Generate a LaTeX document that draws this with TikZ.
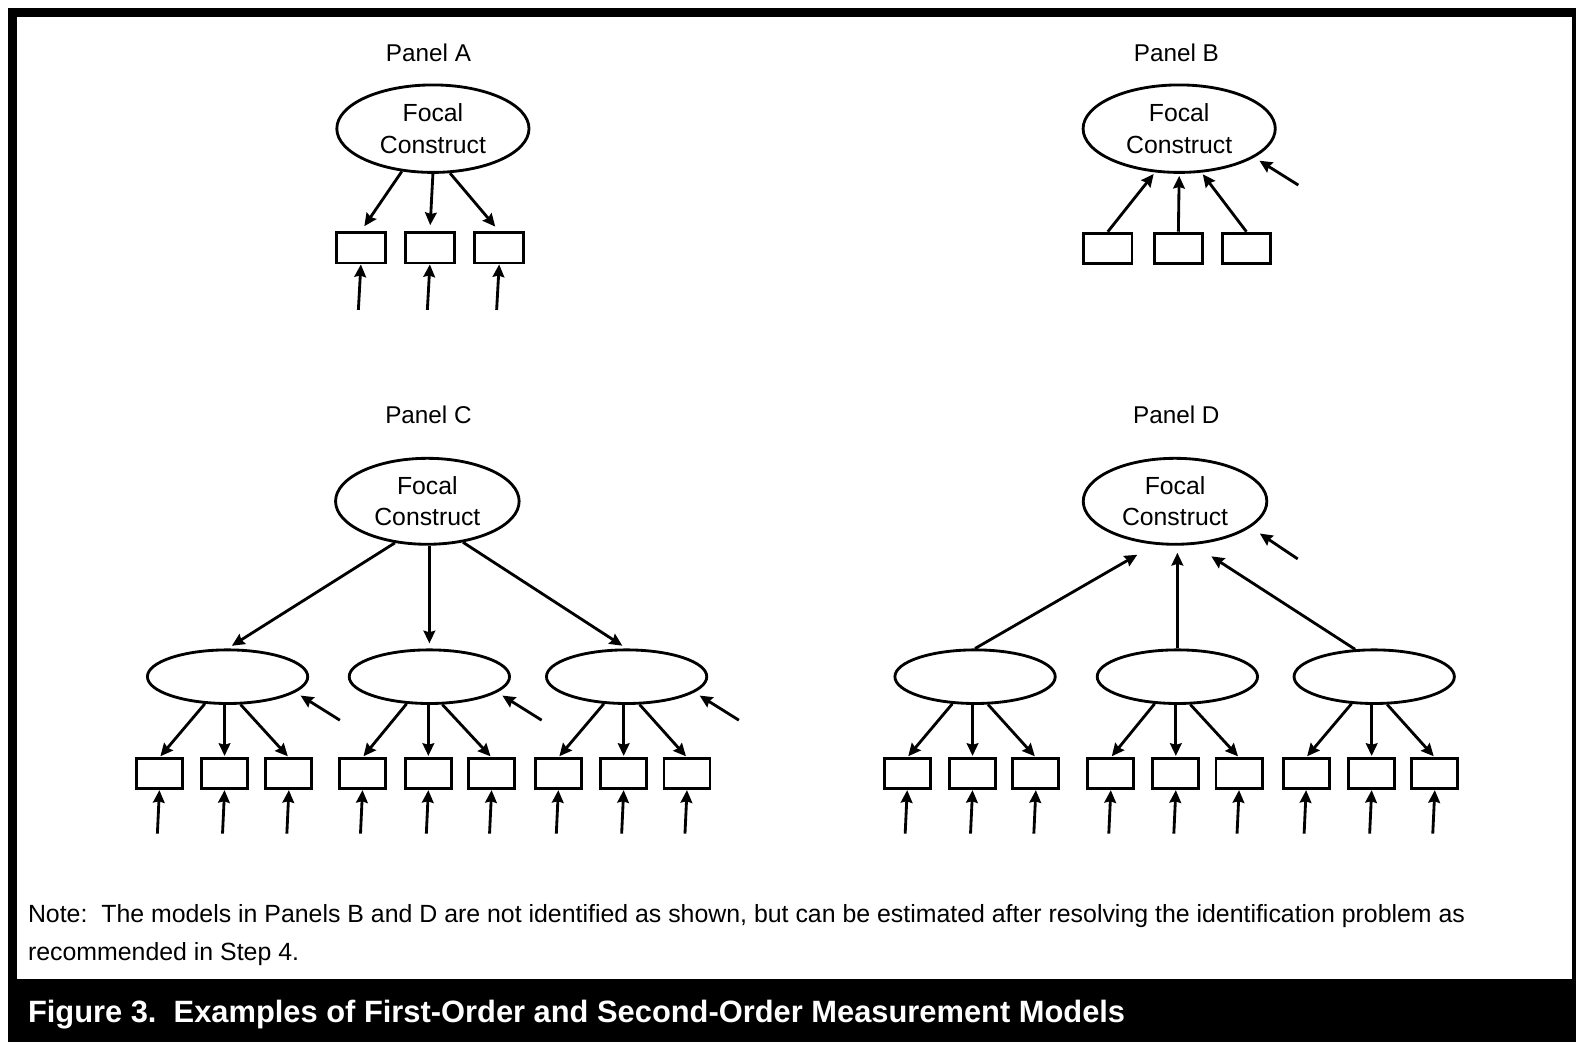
\documentclass[tikz,border=0pt]{standalone}
\usepackage{fontspec}
\setmainfont{Liberation Sans}
\usetikzlibrary{arrows.meta,shapes.geometric,calc}
\begin{document}
\begin{tikzpicture}[x=1pt,y=-1pt,
  lw/.style={line width=2.8pt},
  arr/.style={lw,-{Stealth[length=12.5pt,width=11.5pt,inset=1.5pt]}},
  bigell/.style={ellipse,draw,lw,inner sep=0pt,align=center,font=\fontsize{24.5}{31}\selectfont},
  ellab/.style={bigell,minimum width=190pt,minimum height=86.5pt},
  ellcd/.style={bigell,minimum width=181.5pt,minimum height=85pt},
  midell/.style={ellipse,draw,lw,inner sep=0pt,minimum width=158.5pt,minimum height=53pt},
  indab/.style={rectangle,draw,lw,inner sep=0pt,minimum width=48pt,minimum height=30pt},
  indsm/.style={rectangle,draw,lw,inner sep=0pt,minimum width=45.5pt,minimum height=29.5pt},
  panlab/.style={anchor=base,inner sep=0pt,font=\fontsize{24}{29}\selectfont},
  notetxt/.style={anchor=base west,inner sep=0pt,font=\fontsize{24.6}{30}\selectfont},
  captxt/.style={anchor=base west,inner sep=0pt,text=white,font=\fontsize{30.5}{36}\selectfont\bfseries}
]
\useasboundingbox (0,0) rectangle (1568,1042);
\fill[white] (0,0) rectangle (1568,1042);
% frame
\fill[black] (8,8) rectangle (1558.5,1030);
\fill[white] (16.8,16.8) rectangle (1554.3,968);

% ---------- Panel A ----------
\node[panlab] (pA) at (423.6,61) {Panel A};
\node[ellab] (eA) at (428,127.2) {Focal\\Construct};
\foreach \n/\x in {1/356.8,2/425,3/493.5}{
  \node[indab] (a\n) at (\x,245) {};
  \coordinate (fa\n) at ($(a\n.south)+(-2.5,45)$);
  \draw[arr] (fa\n) -- (a\n.south);
}
\draw[arr,shorten >=6pt] (eA.-126) -- (a1.north);
\draw[arr,shorten >=6pt] (eA.south) -- (a2.north);
\draw[arr,shorten >=6pt] (eA.-69) -- (a3.north);

% ---------- Panel B ----------
\node[panlab] (pB) at (1163,61) {Panel B};
\node[ellab] (eB) at (1165.8,127.2) {Focal\\Construct};
\foreach \n/\x in {1/1095.2,2/1165,3/1232.3}{
  \node[indab] (b\n) at (\x,245.5) {};
}
\draw[arr,shorten >=2pt] (b1.north) -- (eB.-119);
\draw[arr,shorten >=2pt] (b2.north) -- (eB.south);
\draw[arr,shorten >=2pt] (b3.north) -- (eB.-63);
\coordinate (eBe) at (1283.6,183);
\draw[arr,shorten >=6pt] (eBe) -- (eB.-21);

% ---------- Panel C ----------
\node[panlab] (pC) at (423.6,419) {Panel C};
\node[ellcd] (eC) at (422.5,495.6) {Focal\\Construct};
\foreach \k/\x in {1/225,2/424.5,3/619.5}{
  \node[midell] (c\k) at (\x,669) {};
  \coordinate (ec\k) at ($(c\k)+(111,43)$);
  \draw[arr,shorten >=6pt] (ec\k) -- (c\k.-13.5);
}
\draw[arr,shorten >=5pt] (eC.-128) -- (c1.north);
\draw[arr,shorten >=5pt] (eC.south -| c2.north) -- (c2.north);
\draw[arr,shorten >=5pt] (eC.-49) -- (c3.north);
\foreach \n/\x in {11/157.6,12/222,13/285.6,21/358.4,22/423.5,23/486,31/552,32/616.6,33/679.2}{
  \node[indsm] (c\n) at (\x,765) {};
  \coordinate (fc\n) at ($(c\n.south)+(-2,43)$);
  \draw[arr] (fc\n) -- (c\n.south);
}
\foreach \k in {1,2,3}{
  \draw[arr,shorten >=1.5pt] (c\k.-130) -- (c\k1.north);
  \draw[arr,shorten >=1.5pt] (c\k.south -| c\k2.north) -- (c\k2.north);
  \draw[arr,shorten >=1.5pt] (c\k.-65) -- (c\k3.north);
}

% ---------- Panel D ----------
\node[panlab] (pD) at (1163,419) {Panel D};
\node[ellcd] (eD) at (1161.7,495.6) {Focal\\Construct};
\foreach \k/\x in {1/964,2/1164,3/1358.6}{
  \node[midell] (d\k) at (\x,669) {};
}
\draw[arr,shorten >=20pt] (d1.north) -- (eD.-115);
\draw[arr,shorten >=7pt] (d2.north) -- (eD.south -| d2.north);
\draw[arr,shorten >=21pt] (d3.125) -- (eD.-67);
\coordinate (eDe) at (1283,552.6);
\draw[arr,shorten >=11pt] (eDe) -- (eD.-19.6);
\foreach \n/\x in {11/896.9,12/961.5,13/1024.1,21/1098.2,22/1162.5,23/1225,31/1291.3,32/1356.1,33/1418.5}{
  \node[indsm] (d\n) at (\x,765) {};
  \coordinate (fd\n) at ($(d\n.south)+(-2,43)$);
  \draw[arr] (fd\n) -- (d\n.south);
}
\foreach \k in {1,2,3}{
  \draw[arr,shorten >=1.5pt] (d\k.-130) -- (d\k1.north);
  \draw[arr,shorten >=1.5pt] (d\k.south -| d\k2.north) -- (d\k2.north);
  \draw[arr,shorten >=1.5pt] (d\k.-65) -- (d\k3.north);
}

% ---------- Note and caption ----------
\node[notetxt] (n1) at (27.5,912.2) {Note:\ \ The models in Panels B and D are not identified as shown, but can be estimated after resolving the identification problem as};
\node[notetxt] (n2) at (27.5,949.5) {recommended in Step 4.};
\node[captxt] (cap) at (27.5,1011) {Figure 3.\ \ Examples of First-Order and Second-Order Measurement Models};
\end{tikzpicture}
\end{document}
